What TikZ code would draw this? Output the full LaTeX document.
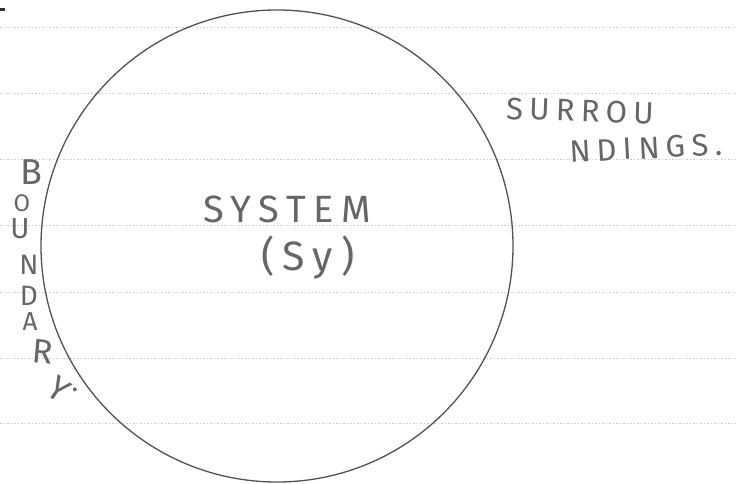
\documentclass[tikz,border=0pt]{standalone}
\usepackage{fontspec}
\newfontfamily\hand[LetterSpace=20]{Fira Sans}
\newcommand\fsz[1]{\hand\fontsize{#1}{#1}\selectfont}
\tikzset{
  pencil/.style={draw=black!68, line width=1.3pt},
  ruled/.style={draw=black!20, line width=0.6pt, dash pattern=on 1.5pt off 2pt},
  hw/.style={text=black!60, inner sep=0pt},
}
\begin{document}
\begin{tikzpicture}[x=1pt,y=-1pt]
\useasboundingbox (0,0) rectangle (736,484);
\fill[white] (0,0) rectangle (736,484);
\foreach \yy in {27,93,159,225,292,358,423} \draw[ruled] (0,\yy) -- (736,\yy);
\fill[black!80] (0,8) rectangle (5,11);
% boundary circle
\node[pencil, circle, minimum size=472pt, inner sep=0pt] (sys) at (277,246) {};
% system label
\node[hw, font=\fsz{38}] (system) at (287,209) {SYSTEM};
\node[hw, font=\fsz{41}] (sy) at (308,258) {(Sy)};
% surroundings
\node[hw, font=\fsz{31}, rotate=-2] (sur1) at (580,111) {SURROU};
\node[hw, font=\fsz{31}, rotate=3] (sur2) at (646,148) {NDINGS.};
% boundary, written vertically
\node[hw, font=\fsz{36}] (b1) at (31,172) {B};
\node[hw, font=\fsz{24}] (b2) at (22,203) {O};
\node[hw, font=\fsz{29}] (b3) at (20,229) {U};
\node[hw, font=\fsz{28}] (b4) at (29,265) {N};
\node[hw, font=\fsz{28}] (b5) at (29,296) {D};
\node[hw, font=\fsz{26}] (b6) at (30,322) {A};
\node[hw, font=\fsz{34}, rotate=-5] (b7) at (43,352) {R};
\node[hw, font=\fsz{34}, rotate=-35] (b8) at (59,389) {Y};
\node[hw, font=\fsz{28}] (b9) at (75,390) {.};
\end{tikzpicture}
\end{document}
